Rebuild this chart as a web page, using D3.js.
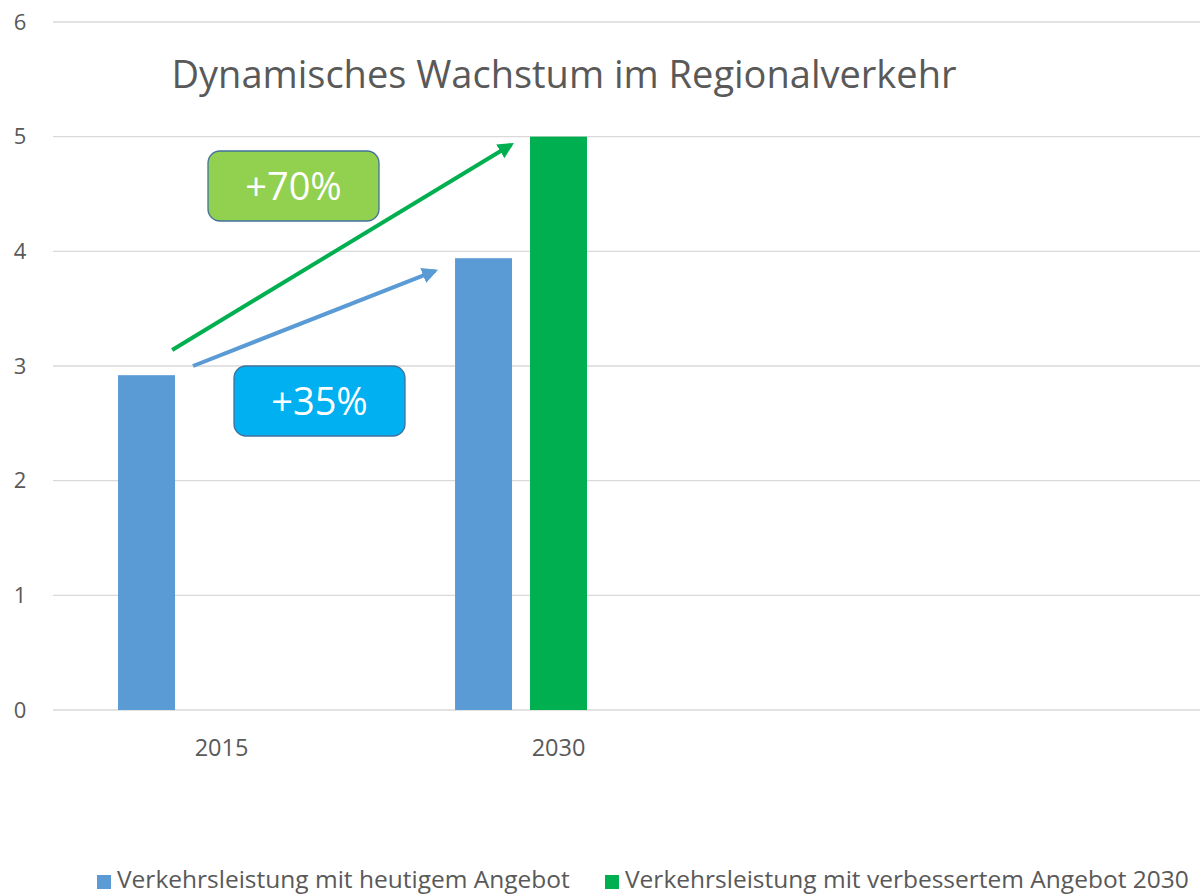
<!DOCTYPE html>
<html>
<head>
<meta charset="utf-8">
<script src="https://cdn.jsdelivr.net/npm/d3@7"></script>
<style>
  body { margin: 0; background: #fff; }
  text { font-family: "Open Sans", sans-serif; }
</style>
</head>
<body>
<div id="chart"></div>
<script>
// Data
var categories = ["2015", "2030"];
var seriesNames = ["Verkehrsleistung mit heutigem Angebot", "Verkehrsleistung mit verbessertem Angebot 2030", "leer"];
var heutigValues = [2.92, 3.94];
var verbessertValues = [0, 5.0];
var leerValues = [0, 0];
var yTicks = [0, 1, 2, 3, 4, 5, 6];
var colors = ["#5b9bd5", "#00b050", "none"];

// Annotation arrows and boxes (value units on y, category / slot on x)
var arrows = [
  { from: { cat: "2015", slot: 0, frac: 0.95, v: 3.14 }, to: { cat: "2030", slot: 1, frac: -0.33, v: 4.93 }, color: "#00b050" },
  { from: { cat: "2015", slot: 1, frac: 0.0, v: 3.0 }, to: { cat: "2030", slot: 0, frac: -0.35, v: 3.83 }, color: "#5b9bd5" }
];
var boxes = [
  { label: "+70%", x: 208, v: 4.875, fill: "#92d050" },
  { label: "+35%", x: 234, v: 3.0, fill: "#00b0f0" }
];

var width = 1200, height = 895;

var svg = d3.select("#chart").append("svg")
  .attr("width", width)
  .attr("height", height);

var y = d3.scaleLinear().domain([0, 6]).range([710, 22]);

var x0 = d3.scaleBand()
  .domain(categories)
  .range([53, 727])
  .paddingInner(0.386)
  .paddingOuter(0.193);

var x1 = d3.scaleBand()
  .domain(seriesNames)
  .range([0, x0.bandwidth()])
  .paddingInner(0.24);

// Gridlines
svg.append("g")
  .selectAll("line")
  .data(yTicks)
  .enter().append("line")
  .attr("x1", 53)
  .attr("x2", width)
  .attr("y1", function(d) { return y(d); })
  .attr("y2", function(d) { return y(d); })
  .style("stroke", "#d9d9d9")
  .style("stroke-width", "1.3px");

// Y tick labels
svg.append("g")
  .selectAll("text")
  .data(yTicks)
  .enter().append("text")
  .attr("x", 20)
  .attr("y", function(d) { return y(d); })
  .attr("dy", "0.35em")
  .style("text-anchor", "middle")
  .style("font-size", "22px")
  .style("fill", "#595959")
  .text(function(d) { return d; });

// Title
svg.append("text")
  .attr("x", 564)
  .attr("y", 88)
  .style("text-anchor", "middle")
  .style("font-size", "38px")
  .style("fill", "#595959")
  .text("Dynamisches Wachstum im Regionalverkehr");

// Bars
var rows = categories.map(function(c, i) {
  return { cat: c, values: [heutigValues[i], verbessertValues[i], leerValues[i]] };
});

var groups = svg.append("g")
  .selectAll("g")
  .data(rows)
  .enter().append("g")
  .attr("transform", function(d) { return "translate(" + x0(d.cat) + ",0)"; });

groups.selectAll("rect")
  .data(function(d) { return d.values.map(function(v, j) { return { name: seriesNames[j], v: v, color: colors[j] }; }); })
  .enter().append("rect")
  .filter(function(d) { return d.v > 0 && d.color !== "none"; })
  .attr("x", function(d) { return x1(d.name); })
  .attr("y", function(d) { return y(d.v); })
  .attr("width", x1.bandwidth())
  .attr("height", function(d) { return y(0) - y(d.v); })
  .style("fill", function(d) { return d.color; });

// Category labels
svg.append("g")
  .selectAll("text")
  .data(categories)
  .enter().append("text")
  .attr("x", function(d) { return x0(d) + x0.bandwidth() / 2; })
  .attr("y", 748)
  .attr("dy", "0.35em")
  .style("text-anchor", "middle")
  .style("font-size", "23.5px")
  .style("fill", "#595959")
  .text(function(d) { return d; });

// Arrows
var defs = svg.append("defs");
arrows.forEach(function(a, i) {
  defs.append("marker")
    .attr("id", "head" + i)
    .attr("viewBox", "0 0 10 10")
    .attr("refX", 8)
    .attr("refY", 5)
    .attr("markerWidth", 4)
    .attr("markerHeight", 4)
    .attr("orient", "auto")
    .append("path")
    .attr("d", "M0,0 L10,5 L0,10 z")
    .style("fill", a.color);
});

function px(p) {
  return x0(p.cat) + x1(seriesNames[p.slot]) + p.frac * x1.bandwidth();
}

svg.append("g")
  .selectAll("line")
  .data(arrows)
  .enter().append("line")
  .attr("x1", function(d) { return px(d.from); })
  .attr("y1", function(d) { return y(d.from.v); })
  .attr("x2", function(d) { return px(d.to); })
  .attr("y2", function(d) { return y(d.to.v); })
  .style("stroke", function(d) { return d.color; })
  .style("stroke-width", "4px")
  .attr("marker-end", function(d, i) { return "url(#head" + i + ")"; });

// Annotation boxes
var box = svg.append("g")
  .selectAll("g")
  .data(boxes)
  .enter().append("g")
  .attr("transform", function(d) { return "translate(" + d.x + "," + y(d.v) + ")"; });

box.append("rect")
  .attr("width", 171)
  .attr("height", 70)
  .attr("rx", 12)
  .attr("ry", 12)
  .style("fill", function(d) { return d.fill; })
  .style("stroke", "#41719c")
  .style("stroke-width", "1.3px");

box.append("text")
  .attr("x", 85.5)
  .attr("y", 36)
  .attr("dy", "0.35em")
  .style("text-anchor", "middle")
  .style("font-size", "38px")
  .style("fill", "#fff")
  .text(function(d) { return d.label; });

// Legend
var legendItems = [
  { name: seriesNames[0], color: colors[0], x: 97 },
  { name: seriesNames[1], color: colors[1], x: 605 }
];

var legend = svg.append("g")
  .selectAll("g")
  .data(legendItems)
  .enter().append("g")
  .attr("transform", function(d) { return "translate(" + d.x + ",875)"; });

legend.append("rect")
  .attr("width", 14)
  .attr("height", 14)
  .style("fill", function(d) { return d.color; });

legend.append("text")
  .attr("x", 20)
  .attr("y", 13)
  .style("font-size", "24.5px")
  .style("fill", "#595959")
  .text(function(d) { return d.name; });
</script>
</body>
</html>
